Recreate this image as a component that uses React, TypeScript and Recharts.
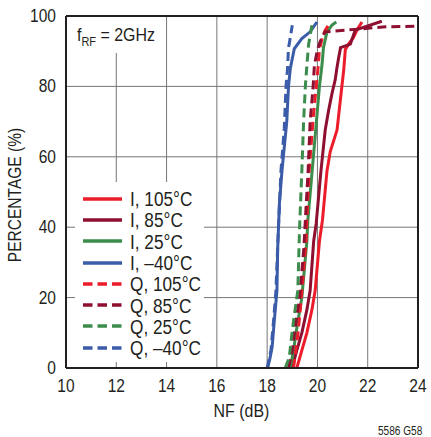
import { LineChart, Line, XAxis, YAxis, CartesianGrid, ReferenceLine } from "recharts";

const NF_TICKS = [10, 12, 14, 16, 18, 20, 22, 24];
const PCT_TICKS = [0, 20, 40, 60, 80, 100];

// each curve: cumulative percentage vs noise figure (dB)
const I105_PCT = [0, 5, 10, 16.5, 22, 36, 42, 56, 61.5, 67.6, 76, 85, 90.5, 92, 94, 96, 98.3];
const I105_NF = [19.18, 19.38, 19.58, 19.78, 19.91, 20.08, 20.2, 20.38, 20.51, 20.78, 20.91, 21.05, 21.11, 21.24, 21.44, 21.57, 21.77];

const I85_PCT = [0, 5, 10, 16.5, 22, 36, 41, 56, 67.6, 73, 78, 82, 85, 88, 91, 92, 96, 98.5];
const I85_NF = [18.99, 19.18, 19.38, 19.58, 19.71, 19.85, 19.95, 20.14, 20.31, 20.44, 20.58, 20.71, 20.77, 20.84, 20.92, 21.31, 21.5, 22.56];

const I25_PCT = [0, 5, 10, 20, 36, 42, 56, 70, 80, 86, 91, 95.5, 97.4, 98.3];
const I25_NF = [18.92, 19.05, 19.15, 19.38, 19.58, 19.62, 19.79, 19.96, 20.08, 20.18, 20.24, 20.38, 20.58, 20.75];

const IM40_PCT = [0, 3, 6, 13, 22, 34, 47, 56, 70, 80, 85, 90.7, 93.6, 95.5, 98.3];
const IM40_NF = [18.02, 18.12, 18.2, 18.28, 18.39, 18.42, 18.49, 18.59, 18.78, 18.85, 18.92, 19.08, 19.38, 19.71, 19.98];

const Q105_PCT = [0, 10, 20, 36, 42, 56, 70, 80, 85, 90.5, 94, 96, 97.4];
const Q105_NF = [19.05, 19.23, 19.36, 19.55, 19.58, 19.67, 19.82, 19.95, 20.02, 20.08, 20.2, 20.31, 20.44];

const Q85_PCT = [0, 5, 12, 20, 34, 42, 56, 70, 80, 86, 90, 92.6, 95.5, 96.2, 96.9, 97.1];
const Q85_NF = [18.85, 19.0, 19.12, 19.29, 19.46, 19.52, 19.63, 19.71, 19.83, 19.88, 19.99, 20.1, 20.3, 21.5, 22.6, 24.0];

const Q25_PCT = [0, 3, 10, 16, 22, 40, 56, 70, 80, 86, 92, 97.4];
const Q25_NF = [18.72, 18.88, 18.99, 19.1, 19.22, 19.29, 19.38, 19.45, 19.52, 19.58, 19.65, 19.78];

const QM40_PCT = [0, 5, 13, 22, 40, 56, 68, 80, 85, 91, 93, 97.4];
const QM40_NF = [18.0, 18.15, 18.25, 18.35, 18.45, 18.55, 18.68, 18.75, 18.81, 18.85, 18.9, 19.0];

const RED = "#ec1c2a";
const DARK_RED = "#8e0f30";
const GREEN = "#3c8c4c";
const BLUE = "#3b5ca8";
const INK = "#231f20";
const FONT = "'Liberation Sans', Arial, sans-serif";
const SQUEEZE = 0.84; // fake a condensed face, none is installed

const toPoints = (pct: number[], nf: number[]) => pct.map((p, i) => ({ nf: nf[i], pct: p }));

const SERIES = [
  { name: "I, 105°C", color: RED, dashed: false, data: toPoints(I105_PCT, I105_NF) },
  { name: "I, 85°C", color: DARK_RED, dashed: false, data: toPoints(I85_PCT, I85_NF) },
  { name: "I, 25°C", color: GREEN, dashed: false, data: toPoints(I25_PCT, I25_NF) },
  { name: "I, –40°C", color: BLUE, dashed: false, data: toPoints(IM40_PCT, IM40_NF) },
  { name: "Q, 105°C", color: RED, dashed: true, data: toPoints(Q105_PCT, Q105_NF) },
  { name: "Q, 85°C", color: DARK_RED, dashed: true, data: toPoints(Q85_PCT, Q85_NF) },
  { name: "Q, 25°C", color: GREEN, dashed: true, data: toPoints(Q25_PCT, Q25_NF) },
  { name: "Q, –40°C", color: BLUE, dashed: true, data: toPoints(QM40_PCT, QM40_NF) },
];

function NarrowText({ x, y, anchor = "middle", size = 18.5, rotate = 0, children }: any) {
  return (
    <text
      transform={`translate(${x} ${y}) rotate(${rotate}) scale(${SQUEEZE} 1)`}
      textAnchor={anchor}
      dominantBaseline="central"
      fontSize={size}
      fontFamily={FONT}
      fill={INK}
    >
      {children}
    </text>
  );
}

const XTick = ({ x, payload }: any) => <NarrowText x={x} y={386.5}>{payload.value}</NarrowText>;
const YTick = ({ y, payload }: any) => <NarrowText x={56} y={y} anchor="end">{payload.value}</NarrowText>;

const squeezed = { display: "inline-block", transform: `scaleX(${SQUEEZE})`, transformOrigin: "left center", whiteSpace: "nowrap" as const };

export default function App() {
  return (
    <div style={{ position: "absolute", left: 0, top: 0, width: 431, height: 437, background: "#fff", fontFamily: FONT, color: INK }}>
      <LineChart width={431} height={437} margin={{ top: 16, right: 13, bottom: 0, left: 0 }}>
        <CartesianGrid stroke="#767676" strokeWidth={1} />
        <XAxis
          type="number"
          dataKey="nf"
          domain={[10, 24]}
          ticks={NF_TICKS}
          allowDataOverflow
          height={69}
          tickLine={false}
          axisLine={{ stroke: INK, strokeWidth: 2 }}
          tick={<XTick />}
          label={{ content: () => <NarrowText x={241.5} y={411} size={19}>NF (dB)</NarrowText> }}
        />
        <YAxis
          type="number"
          dataKey="pct"
          domain={[0, 100]}
          ticks={PCT_TICKS}
          width={66}
          tickLine={false}
          axisLine={{ stroke: INK, strokeWidth: 2 }}
          tick={<YTick />}
          label={{ content: () => <NarrowText x={15} y={195} rotate={-90} size={18.5}>PERCENTAGE (%)</NarrowText> }}
        />
        <ReferenceLine y={100} stroke={INK} strokeWidth={2} />
        <ReferenceLine x={24} stroke={INK} strokeWidth={2} />
        {SERIES.map((s) => (
          <Line
            key={s.name}
            data={s.data}
            dataKey="pct"
            name={s.name}
            type="linear"
            stroke={s.color}
            strokeWidth={3}
            strokeDasharray={s.dashed ? "9 5" : undefined}
            dot={false}
            isAnimationActive={false}
          />
        ))}
      </LineChart>

      {/* frequency note */}
      <div style={{ position: "absolute", left: 67, top: 17, width: 92, height: 36, background: "#fff", fontSize: 19, lineHeight: "36px", paddingLeft: 10, boxSizing: "border-box" }}>
        <span style={squeezed}>
          f<sub style={{ fontSize: 13, verticalAlign: -5 }}>RF</sub> = 2GHz
        </span>
      </div>

      {/* legend */}
      <div style={{ position: "absolute", left: 75, top: 182, width: 129, height: 180, background: "#fff", paddingTop: 6, boxSizing: "border-box" }}>
        {SERIES.map((s) => (
          <div key={s.name} style={{ display: "flex", alignItems: "center", height: 21.3 }}>
            <svg width={47} height={6} style={{ marginLeft: 8, flex: "none" }}>
              <line x1={0} y1={3} x2={39} y2={3} stroke={s.color} strokeWidth={3.5} strokeDasharray={s.dashed ? "9.5 5" : undefined} />
            </svg>
            <span style={{ ...squeezed, fontSize: 20.5, lineHeight: "21px" }}>{s.name}</span>
          </div>
        ))}
      </div>

      <div style={{ position: "absolute", left: 378, top: 424, fontSize: 12 }}>
        <span style={squeezed}>5586 G58</span>
      </div>
    </div>
  );
}
